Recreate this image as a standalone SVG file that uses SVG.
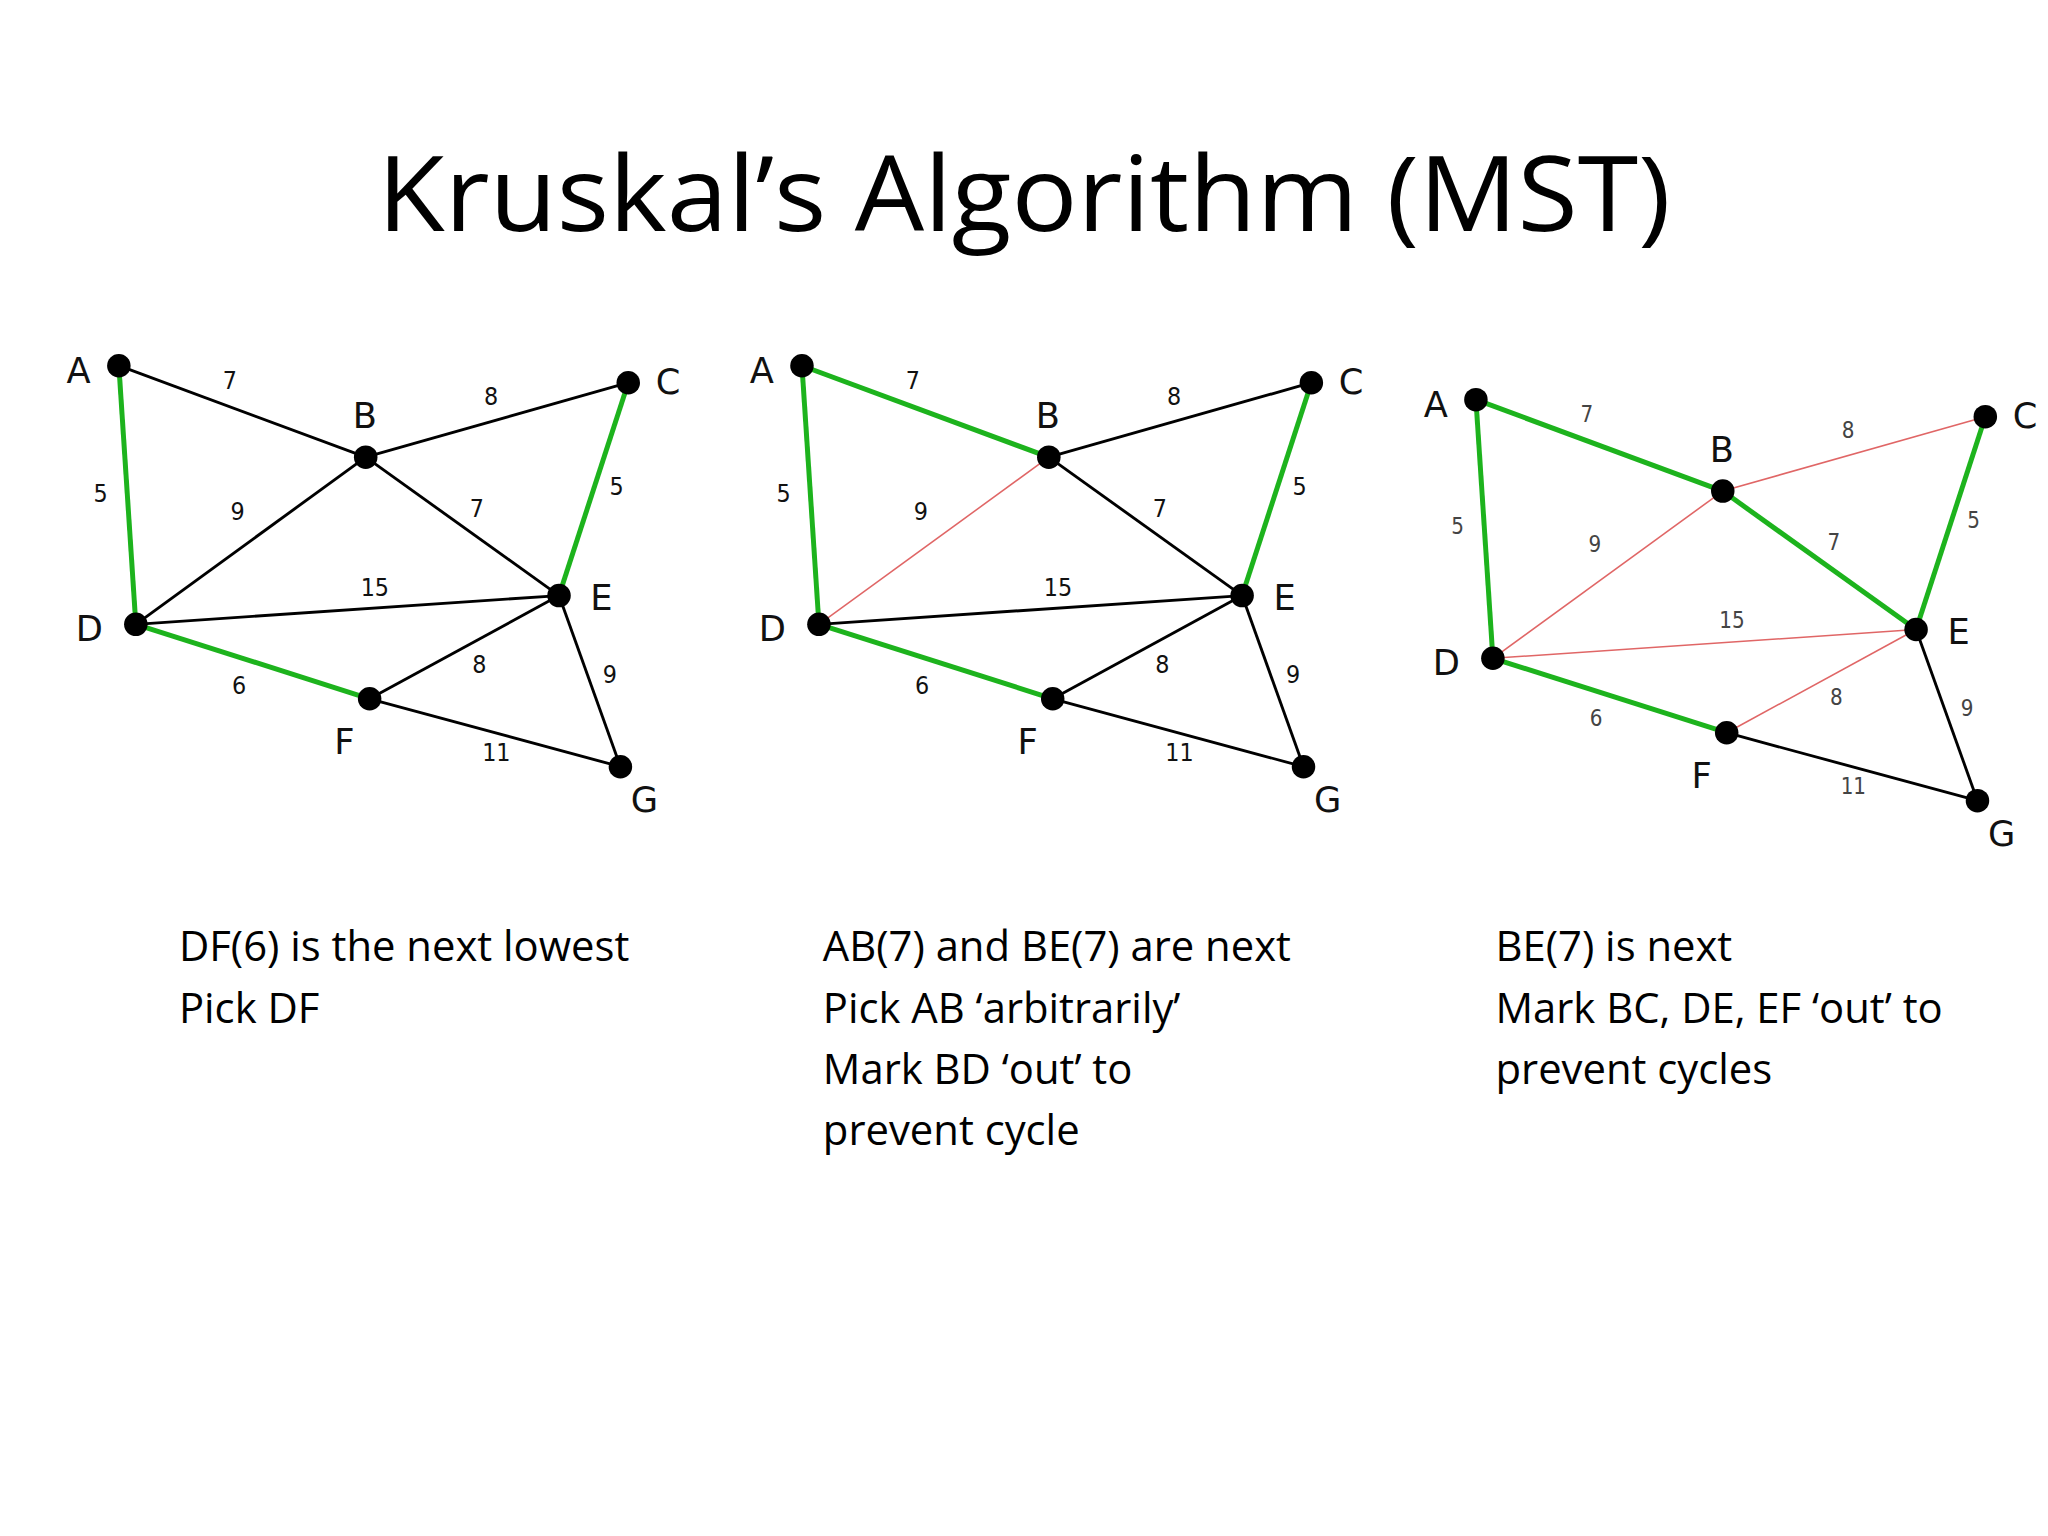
<svg xmlns="http://www.w3.org/2000/svg" width="2048" height="1536" viewBox="0 0 2048 1536">
<style>
.k{stroke:#000;stroke-width:2.2;fill:none}
.g{stroke:#1db31d;stroke-width:3.8;fill:none}
.r{stroke:#e06666;stroke-width:1.2;fill:none}
.n{fill:#000}
.lb{font-family:"DejaVu Sans",sans-serif;font-size:27px;fill:#111}
.w{font-family:"DejaVu Sans Condensed","DejaVu Sans",sans-serif;font-size:19px;fill:#111;text-anchor:middle}
.w3{font-family:"DejaVu Sans Condensed","DejaVu Sans",sans-serif;font-size:17px;fill:#444;text-anchor:middle}
.cap{font-family:"Open Sans","Noto Sans",sans-serif;font-size:32px;fill:#000}
.t{font-family:"Open Sans","Noto Sans",sans-serif;font-size:80px;fill:#000;text-anchor:middle}
</style>
<rect width="2048" height="1536" fill="#fff"/>
<g transform="scale(1.30612)">
<text class="t" x="784" y="177" textLength="990" lengthAdjust="spacingAndGlyphs">Kruskal’s Algorithm (MST)</text>

<g id="connectors">
<!-- graph 1 -->
<line class="k" x1="91" y1="280" x2="280" y2="350"/>
<line class="k" x1="280" y1="350" x2="481" y2="293"/>
<line class="g" x1="91" y1="280" x2="104" y2="478"/>
<line class="k" x1="280" y1="350" x2="104" y2="478"/>
<line class="k" x1="280" y1="350" x2="428" y2="456"/>
<line class="g" x1="481" y1="293" x2="428" y2="456"/>
<line class="k" x1="104" y1="478" x2="428" y2="456"/>
<line class="k" x1="428" y1="456" x2="283" y2="535"/>
<line class="g" x1="104" y1="478" x2="283" y2="535"/>
<line class="k" x1="428" y1="456" x2="475" y2="587"/>
<line class="k" x1="283" y1="535" x2="475" y2="587"/>
<!-- graph 2 -->
<g transform="translate(523,0)">
<line class="g" x1="91" y1="280" x2="280" y2="350"/>
<line class="k" x1="280" y1="350" x2="481" y2="293"/>
<line class="g" x1="91" y1="280" x2="104" y2="478"/>
<line class="r" x1="280" y1="350" x2="104" y2="478"/>
<line class="k" x1="280" y1="350" x2="428" y2="456"/>
<line class="g" x1="481" y1="293" x2="428" y2="456"/>
<line class="k" x1="104" y1="478" x2="428" y2="456"/>
<line class="k" x1="428" y1="456" x2="283" y2="535"/>
<line class="g" x1="104" y1="478" x2="283" y2="535"/>
<line class="k" x1="428" y1="456" x2="475" y2="587"/>
<line class="k" x1="283" y1="535" x2="475" y2="587"/>
</g>
<!-- graph 3 -->
<g transform="translate(1039,26)">
<line class="g" x1="91" y1="280" x2="280" y2="350"/>
<line class="r" x1="280" y1="350" x2="481" y2="293"/>
<line class="g" x1="91" y1="280" x2="104" y2="478"/>
<line class="r" x1="280" y1="350" x2="104" y2="478"/>
<line class="g" x1="280" y1="350" x2="428" y2="456"/>
<line class="g" x1="481" y1="293" x2="428" y2="456"/>
<line class="r" x1="104" y1="478" x2="428" y2="456"/>
<line class="r" x1="428" y1="456" x2="283" y2="535"/>
<line class="g" x1="104" y1="478" x2="283" y2="535"/>
<line class="k" x1="428" y1="456" x2="475" y2="587"/>
<line class="k" x1="283" y1="535" x2="475" y2="587"/>
</g>
</g>

<g id="weights1">
<text class="w" x="176" y="298">7</text><text class="w" x="376" y="310">8</text>
<text class="w" x="77" y="384">5</text><text class="w" x="182" y="398">9</text>
<text class="w" x="365" y="396">7</text><text class="w" x="472" y="379">5</text>
<text class="w" x="287" y="456">15</text><text class="w" x="367" y="515">8</text>
<text class="w" x="183" y="531">6</text><text class="w" x="467" y="523">9</text>
<text class="w" x="380" y="583">11</text>
</g>
<g id="weights2" transform="translate(523,0)">
<text class="w" x="176" y="298">7</text><text class="w" x="376" y="310">8</text>
<text class="w" x="77" y="384">5</text><text class="w" x="182" y="398">9</text>
<text class="w" x="365" y="396">7</text><text class="w" x="472" y="379">5</text>
<text class="w" x="287" y="456">15</text><text class="w" x="367" y="515">8</text>
<text class="w" x="183" y="531">6</text><text class="w" x="467" y="523">9</text>
<text class="w" x="380" y="583">11</text>
</g>
<g id="weights3" transform="translate(1039,26)">
<text class="w3" x="176" y="297">7</text><text class="w3" x="376" y="309">8</text>
<text class="w3" x="77" y="383">5</text><text class="w3" x="182" y="397">9</text>
<text class="w3" x="365" y="395">7</text><text class="w3" x="472" y="378">5</text>
<text class="w3" x="287" y="455">15</text><text class="w3" x="367" y="514">8</text>
<text class="w3" x="183" y="530">6</text><text class="w3" x="467" y="522">9</text>
<text class="w3" x="380" y="582">11</text>
</g>

<g id="graph1">
<g id="g1-A"><circle class="n" cx="91" cy="280" r="9"/><text class="lb" x="51" y="293">A</text></g>
<g id="g1-B"><circle class="n" cx="280" cy="350" r="9"/><text class="lb" x="270" y="328">B</text></g>
<g id="g1-C"><circle class="n" cx="481" cy="293" r="9"/><text class="lb" x="502" y="302">C</text></g>
<g id="g1-D"><circle class="n" cx="104" cy="478" r="9"/><text class="lb" x="58" y="491">D</text></g>
<g id="g1-E"><circle class="n" cx="428" cy="456" r="9"/><text class="lb" x="452" y="467">E</text></g>
<g id="g1-F"><circle class="n" cx="283" cy="535" r="9"/><text class="lb" x="256" y="577">F</text></g>
<g id="g1-G"><circle class="n" cx="475" cy="587" r="9"/><text class="lb" x="483" y="622">G</text></g>
</g>
<g id="graph2" transform="translate(523,0)">
<g id="g2-A"><circle class="n" cx="91" cy="280" r="9"/><text class="lb" x="51" y="293">A</text></g>
<g id="g2-B"><circle class="n" cx="280" cy="350" r="9"/><text class="lb" x="270" y="328">B</text></g>
<g id="g2-C"><circle class="n" cx="481" cy="293" r="9"/><text class="lb" x="502" y="302">C</text></g>
<g id="g2-D"><circle class="n" cx="104" cy="478" r="9"/><text class="lb" x="58" y="491">D</text></g>
<g id="g2-E"><circle class="n" cx="428" cy="456" r="9"/><text class="lb" x="452" y="467">E</text></g>
<g id="g2-F"><circle class="n" cx="283" cy="535" r="9"/><text class="lb" x="256" y="577">F</text></g>
<g id="g2-G"><circle class="n" cx="475" cy="587" r="9"/><text class="lb" x="483" y="622">G</text></g>
</g>
<g id="graph3" transform="translate(1039,26)">
<g id="g3-A"><circle class="n" cx="91" cy="280" r="9"/><text class="lb" x="51" y="293">A</text></g>
<g id="g3-B"><circle class="n" cx="280" cy="350" r="9"/><text class="lb" x="270" y="328">B</text></g>
<g id="g3-C"><circle class="n" cx="481" cy="293" r="9"/><text class="lb" x="502" y="302">C</text></g>
<g id="g3-D"><circle class="n" cx="104" cy="478" r="9"/><text class="lb" x="58" y="491">D</text></g>
<g id="g3-E"><circle class="n" cx="428" cy="456" r="9"/><text class="lb" x="452" y="467">E</text></g>
<g id="g3-F"><circle class="n" cx="283" cy="535" r="9"/><text class="lb" x="256" y="577">F</text></g>
<g id="g3-G"><circle class="n" cx="475" cy="587" r="9"/><text class="lb" x="483" y="622">G</text></g>
</g>

<g id="captions">
<text class="cap" x="137" y="736">DF(6) is the next lowest</text>
<text class="cap" x="137" y="783">Pick DF</text>
<text class="cap" x="630" y="736">AB(7) and BE(7) are next</text>
<text class="cap" x="630" y="783">Pick AB ‘arbitrarily’</text>
<text class="cap" x="630" y="830">Mark BD ‘out’ to</text>
<text class="cap" x="630" y="877">prevent cycle</text>
<text class="cap" x="1145" y="736">BE(7) is next</text>
<text class="cap" x="1145" y="783">Mark BC, DE, EF ‘out’ to</text>
<text class="cap" x="1145" y="830">prevent cycles</text>
</g>
</g>
</svg>
